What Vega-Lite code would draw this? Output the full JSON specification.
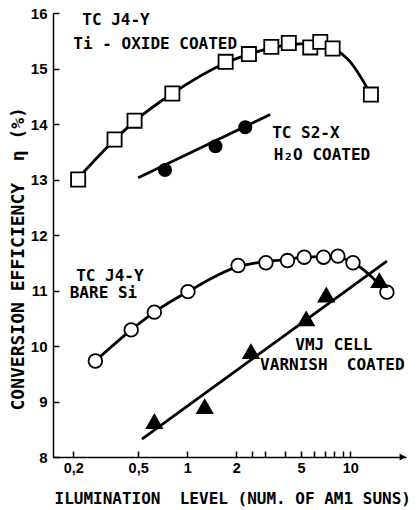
{
  "$schema": "https://vega.github.io/schema/vega-lite/v6.json",
  "width": 353,
  "height": 444,
  "autosize": "none",
  "padding": {"left": 53, "top": 13, "right": 12, "bottom": 53},
  "background": "white",
  "config": {
    "view": {"stroke": null},
    "font": "DejaVu Sans Mono",
    "axis": {"labelFont": "Liberation Sans", "titleFont": "DejaVu Sans Mono", "domainColor": "black", "tickColor": "black", "labelColor": "black", "titleColor": "black", "grid": false, "domainWidth": 1.5, "tickWidth": 1.5}
  },
  "datasets": {
    "curves": [
      {"series": "A", "x": 0.21, "y": 13.0},
      {"series": "A", "x": 0.36, "y": 13.72},
      {"series": "A", "x": 0.48, "y": 14.06},
      {"series": "A", "x": 0.81, "y": 14.55},
      {"series": "A", "x": 1.72, "y": 15.1},
      {"series": "A", "x": 2.4, "y": 15.26},
      {"series": "A", "x": 3.3, "y": 15.37},
      {"series": "A", "x": 4.2, "y": 15.43},
      {"series": "A", "x": 5.7, "y": 15.45},
      {"series": "A", "x": 6.6, "y": 15.44},
      {"series": "A", "x": 7.8, "y": 15.37},
      {"series": "A", "x": 10.0, "y": 15.12},
      {"series": "A", "x": 13.4, "y": 14.53},
      {"series": "B", "x": 0.5, "y": 13.03},
      {"series": "B", "x": 3.23, "y": 14.17},
      {"series": "C", "x": 0.273, "y": 9.73},
      {"series": "C", "x": 0.453, "y": 10.29},
      {"series": "C", "x": 0.628, "y": 10.61},
      {"series": "C", "x": 1.01, "y": 10.98},
      {"series": "C", "x": 2.05, "y": 11.43},
      {"series": "C", "x": 3.04, "y": 11.52},
      {"series": "C", "x": 4.12, "y": 11.56},
      {"series": "C", "x": 5.22, "y": 11.6},
      {"series": "C", "x": 6.86, "y": 11.61},
      {"series": "C", "x": 8.4, "y": 11.6},
      {"series": "C", "x": 10.4, "y": 11.5},
      {"series": "C", "x": 16.8, "y": 10.97},
      {"series": "D", "x": 0.527, "y": 8.32},
      {"series": "D", "x": 16.8, "y": 11.53}
    ],
    "points": [
      {"series": "A", "x": 0.214, "y": 13.0},
      {"series": "A", "x": 0.358, "y": 13.72},
      {"series": "A", "x": 0.475, "y": 14.06},
      {"series": "A", "x": 0.81, "y": 14.55},
      {"series": "A", "x": 1.72, "y": 15.12},
      {"series": "A", "x": 2.39, "y": 15.26},
      {"series": "A", "x": 3.28, "y": 15.39},
      {"series": "A", "x": 4.2, "y": 15.46},
      {"series": "A", "x": 5.69, "y": 15.38},
      {"series": "A", "x": 6.55, "y": 15.48},
      {"series": "A", "x": 7.8, "y": 15.36},
      {"series": "A", "x": 13.4, "y": 14.53},
      {"series": "B", "x": 0.73, "y": 13.17},
      {"series": "B", "x": 1.49, "y": 13.6},
      {"series": "B", "x": 2.27, "y": 13.94},
      {"series": "C", "x": 0.273, "y": 9.73},
      {"series": "C", "x": 0.453, "y": 10.29},
      {"series": "C", "x": 0.628, "y": 10.61},
      {"series": "C", "x": 1.01, "y": 10.98},
      {"series": "C", "x": 2.05, "y": 11.45},
      {"series": "C", "x": 3.04, "y": 11.5},
      {"series": "C", "x": 4.12, "y": 11.54},
      {"series": "C", "x": 5.22, "y": 11.6},
      {"series": "C", "x": 6.86, "y": 11.6},
      {"series": "C", "x": 8.4, "y": 11.62},
      {"series": "C", "x": 10.4, "y": 11.5},
      {"series": "C", "x": 16.8, "y": 10.97},
      {"series": "D", "x": 0.628, "y": 8.64},
      {"series": "D", "x": 1.28, "y": 8.91},
      {"series": "D", "x": 2.46, "y": 9.9},
      {"series": "D", "x": 5.37, "y": 10.49},
      {"series": "D", "x": 7.13, "y": 10.92},
      {"series": "D", "x": 15.1, "y": 11.18}
    ],
    "labels": [
      {"text": "TC J4-Y", "x": 0.227, "y": 15.87},
      {"text": "Ti - OXIDE COATED", "x": 0.2, "y": 15.45},
      {"text": "TC S2-X", "x": 3.32, "y": 13.83},
      {"text": "H₂O COATED", "x": 3.4, "y": 13.45},
      {"text": "TC J4-Y", "x": 0.208, "y": 11.27},
      {"text": "BARE Si", "x": 0.19, "y": 10.96},
      {"text": "VMJ CELL", "x": 4.6, "y": 10.02},
      {"text": "VARNISH\u00a0\u00a0COATED", "x": 2.8, "y": 9.66}
    ],
    "arrow": [{"x": 21.0, "y": 8.0}]
  },
  "layer": [
    {
      "data": {"name": "curves"},
      "mark": {"type": "line", "color": "black", "strokeWidth": 2.8, "interpolate": "monotone"},
      "encoding": {
        "x": {"field": "x", "type": "quantitative", "scale": {"type": "log", "domain": [0.15, 22], "nice": false},
          "axis": {"values": [0.2, 0.5, 1, 2, 2.5, 3, 4, 5, 6, 7, 8, 9, 10],
            "labelExpr": "datum.value == 0.2 ? '0,2' : datum.value == 0.5 ? '0,5' : (datum.value == 1 || datum.value == 2 || datum.value == 5 || datum.value == 10) ? datum.value + '' : ''",
            "tickSize": -6, "labelPadding": 10, "labelFontSize": 14.5, "labelFontWeight": "bold", "labelFlush": false,
            "title": "ILUMINATION\u00a0\u00a0LEVEL\u00a0(NUM.\u00a0OF\u00a0AM1\u00a0SUNS)", "titleFontSize": 16, "titleFontWeight": "bold", "titlePadding": 16, "titleAnchor": "start", "titleX": 1}},
        "y": {"field": "y", "type": "quantitative", "scale": {"domain": [8, 16], "nice": false, "zero": false},
          "axis": {"values": [8, 9, 10, 11, 12, 13, 14, 15, 16], "format": "d", "tickSize": -6, "labelPadding": 12, "labelFontSize": 15, "labelFontWeight": "bold",
            "title": "CONVERSION EFFICIENCY\u00a0\u00a0η\u00a0(%)", "titleFontSize": 18, "titleFontWeight": "bold", "titleAnchor": "start", "titleY": 397, "titleX": -26}},
        "detail": {"field": "series"}
      }
    },
    {
      "data": {"name": "points"},
      "mark": {"type": "point", "stroke": "black", "strokeWidth": 1.8, "opacity": 1},
      "encoding": {
        "x": {"field": "x", "type": "quantitative"},
        "y": {"field": "y", "type": "quantitative"},
        "shape": {"field": "series", "type": "nominal", "scale": {"domain": ["A", "B", "C", "D"], "range": ["square", "circle", "circle", "triangle-up"]}, "legend": null},
        "fill": {"field": "series", "type": "nominal", "scale": {"domain": ["A", "B", "C", "D"], "range": ["white", "black", "white", "black"]}, "legend": null},
        "size": {"field": "series", "type": "nominal", "scale": {"type": "ordinal", "domain": ["A", "B", "C", "D"], "range": [200, 150, 185, 230]}, "legend": null}
      }
    },
    {
      "data": {"name": "labels"},
      "mark": {"type": "text", "align": "left", "baseline": "middle", "font": "DejaVu Sans Mono", "fontWeight": "bold", "fontSize": 16, "color": "black"},
      "encoding": {
        "x": {"field": "x", "type": "quantitative"},
        "y": {"field": "y", "type": "quantitative"},
        "text": {"field": "text"}
      }
    },
    {
      "data": {"name": "arrow"},
      "mark": {"type": "point", "shape": "triangle-right", "filled": true, "color": "black", "size": 50, "opacity": 1},
      "encoding": {
        "x": {"field": "x", "type": "quantitative"},
        "y": {"field": "y", "type": "quantitative"}
      }
    }
  ]
}
